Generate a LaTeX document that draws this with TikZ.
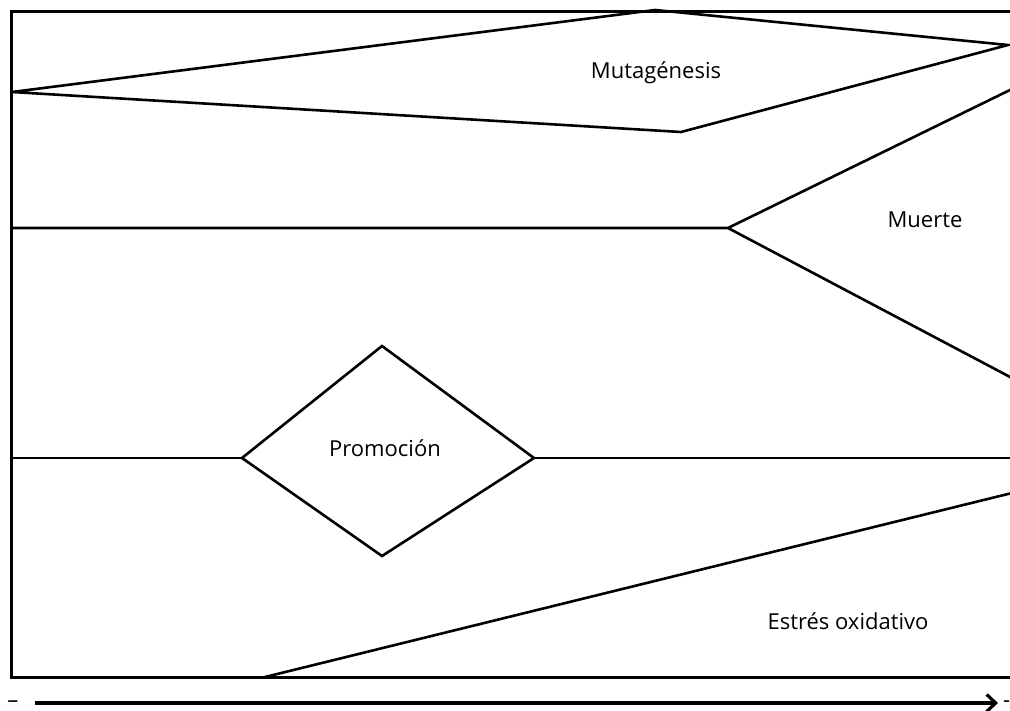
\documentclass[tikz,border=0pt]{standalone}
\usepackage{fontspec}
\setmainfont{Open Sans}
\usetikzlibrary{arrows.meta}
\begin{document}
\begin{tikzpicture}[x=1pt,y=-1pt,
  frameline/.style={line width=3pt},
  outline/.style={line width=2.6pt,line join=miter},
  lbl/.style={font=\fontsize{22}{26}\selectfont,inner sep=0pt},
  axisline/.style={line width=3.6pt,-{Straight Barb[length=9pt,width=17pt,line width=3.2pt]}}]
\useasboundingbox (0,0) rectangle (1010,710);
% frame
\coordinate (tl) at (11,11);
\coordinate (tr) at (1012,11);
\coordinate (bl) at (11,677);
\coordinate (br) at (1012,677);
\draw[frameline] (tr) -- (tl) -- (bl) -- (br);
% Mutagenesis
\coordinate (m1) at (12,92);
\coordinate (m2) at (655,10);
\coordinate (m3) at (1008,45);
\coordinate (m4) at (681,132);
\draw[outline] (m1) -- (m2) -- (m3) -- (m4) -- cycle;
\node[lbl] (mut) at (656,73) {Mutagénesis};
% Muerte
\coordinate (d0) at (10,228);
\coordinate (d1) at (728,228);
\coordinate (d2) at (1012,89);
\coordinate (d3) at (1012,378);
\draw[outline] (d0) -- (d1) -- (d2);
\draw[outline] (d1) -- (d3);
\node[lbl] (mue) at (925,220) {Muerte};
% Promocion
\coordinate (p0) at (10,458);
\coordinate (pl) at (242,458);
\coordinate (pt) at (382,346);
\coordinate (pr) at (534,458);
\coordinate (pb) at (382,556);
\coordinate (pe) at (1012,458);
\draw[outline] (p0) -- (pl);
\draw[outline] (pl) -- (pt) -- (pr) -- (pb) -- cycle;
\draw[outline] (pr) -- (pe);
\node[lbl] (pro) at (385,448) {Promoción};
% Estres oxidativo
\coordinate (e0) at (265,677);
\coordinate (e1) at (1012,493);
\draw[outline] (e0) -- (e1);
\node[lbl] (est) at (848,621) {Estrés oxidativo};
% axis
\node[lbl,font=\fontsize{22}{24}\selectfont] (minus) at (13,704) {–};
\coordinate (a0) at (35,703);
\coordinate (a1) at (998,703);
\draw[axisline] (a0) -- (a1);
\node[lbl,font=\fontsize{22}{24}\selectfont,anchor=west] (plus) at (1003,704) {-};
\end{tikzpicture}
\end{document}
